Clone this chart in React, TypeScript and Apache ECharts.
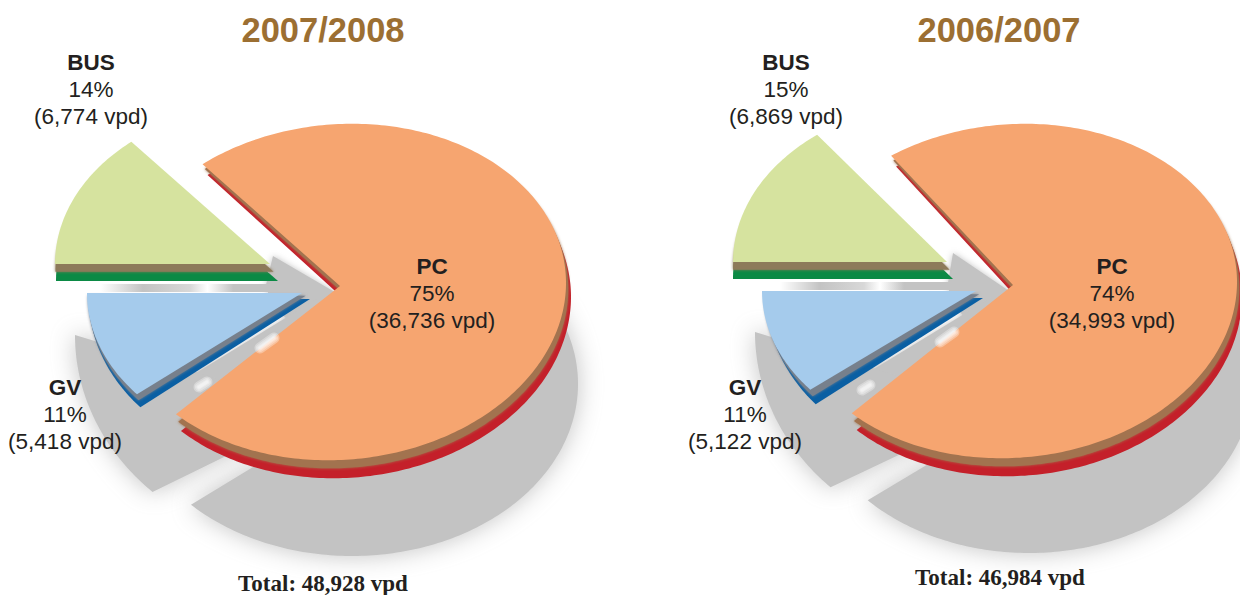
import React, { useEffect, useRef } from "react";
import * as echarts from "echarts";

const segments = ["PC", "BUS", "GV"];
const vpd0708 = [36736, 6774, 5418];
const pct0708 = [75, 14, 11];
const total0708 = 48928;
const vpd0607 = [34993, 6869, 5122];
const pct0607 = [74, 15, 11];
const total0607 = 46984;

type Wedge = {
  apex: number[]; c: number[]; rx: number; ry: number; ext: number[]; grow: number[];
  skew: number; trim: number[];
  shadow?: { apex: number[]; c: number[]; rx: number; ry: number; trim: number[]; from?: number };
};
const FONT = "'Liberation Sans', Arial, sans-serif";
const GREY = "#c3c3c3";
const COLORS = [
  { face: "#f6a570", mid: "#a2734f", dark: "#c4202a" },
  { face: "#d6e39f", mid: "#8d7a5a", dark: "#0b8a45" },
  { face: "#a5cbec", mid: "#77808c", dark: "#0a5fa3" },
];

const charts = [
  {
    title: "2007/2008", vpd: vpd0708, pct: pct0708, total: total0708,
    titleX: 323, titleY: 30, totalX: 323, totalY: 583,
    labels: [[432, 266], [91, 62], [65, 387]],
    notch: [[273, 256], [345, 298], [298, 332], [270, 300], [266, 285]],
    gap: [[318, 298], [338, 298], [182, 418], [155, 425], [139, 408]],
    glints: [[260, 348, 274, 338], [199, 387, 207, 382]],
    band: [100, 284, 215, 8],
    wedges: [
      { apex: [340, 286], c: [340, 292], rx: 226, ry: 168, ext: [5, 14], grow: [0, 4], skew: 0.04, trim: [3.6, -2.7],
        shadow: { apex: [350, 408], c: [352, 384], rx: 226, ry: 172, trim: [4.7, 0], from: 40 } },
      { apex: [270, 264], c: [270, 264], rx: 215, ry: 160, ext: [8, 17], grow: [7, 4], skew: 0, trim: [0, 0] },
      { apex: [302, 293], c: [302, 293], rx: 215, ry: 158, ext: [8, 6], grow: [6, 11], skew: 0, trim: [0, 0],
        shadow: { apex: [320, 410], c: [320, 335], rx: 245, ry: 215, trim: [0, 7] } },
    ] as Wedge[],
  },
  {
    title: "2006/2007", vpd: vpd0607, pct: pct0607, total: total0607,
    titleX: 999, titleY: 30, totalX: 1000, totalY: 577,
    labels: [[1112, 266], [786, 62], [745, 387]],
    notch: [[953, 253], [1018, 297], [975, 332], [950, 298], [948, 283]],
    gap: [[992, 297], [1012, 297], [860, 418], [832, 422], [815, 405]],
    glints: [[940, 342, 954, 332], [862, 390, 870, 385]],
    band: [780, 282, 200, 8],
    wedges: [
      { apex: [1013, 285], c: [1013, 291], rx: 224, ry: 167, ext: [5, 14], grow: [0, 4], skew: 0.04, trim: [4.7, -4.4],
        shadow: { apex: [1027, 405], c: [1029, 381], rx: 224, ry: 172, trim: [4.7, 0], from: 40 } },
      { apex: [947, 262], c: [947, 262], rx: 214, ry: 160, ext: [6, 17], grow: [6, 4], skew: 0, trim: [0, 0] },
      { apex: [976, 291], c: [976, 291], rx: 214, ry: 156, ext: [7, 7], grow: [2, 12], skew: 0, trim: [0, 0],
        shadow: { apex: [1000, 407], c: [1000, 332], rx: 245, ry: 215, trim: [0, 7] } },
    ] as Wedge[],
  },
];

// Angles (degrees, counter-clockwise from east) of each segment, from its share of the total.
function angleRanges(values: number[]) {
  const sum = values.reduce((a, b) => a + b, 0);
  const deg = values.map((v) => (v / sum) * 360);
  const busStart = 180 - deg[1];
  return [
    [busStart - deg[0], busStart], // PC
    [busStart, 180], // BUS
    [180, 180 + deg[2]], // GV
  ];
}

function wedgePoints(apex: number[], c: number[], rx: number, ry: number, a0: number, a1: number, skew = 0) {
  const pts: number[][] = [apex];
  const steps = Math.ceil(Math.abs(a1 - a0));
  for (let i = 0; i <= steps; i++) {
    const a = ((a0 + ((a1 - a0) * i) / steps) * Math.PI) / 180;
    const dx = rx * Math.cos(a);
    pts.push([c[0] + dx, c[1] - ry * Math.sin(a) - skew * dx]);
  }
  return pts;
}

function buildOption() {
  const series: any[] = [];
  const graphic: any[] = [];
  charts.forEach((chart) => {
    const ranges = angleRanges(chart.vpd);
    const layer = (name: string, draw: (i: number, w: Wedge, r: number[]) => any) => {
      series.push({
        type: "custom",
        name: chart.title + " " + name,
        coordinateSystem: "none",
        silent: true,
        data: chart.vpd.map((v, i) => ({ name: segments[i], value: [i, v] })),
        renderItem: (params: any) => {
          const i = params.dataIndex;
          return draw(i, chart.wedges[i], ranges[i]);
        },
      });
    };
    layer("shadow", (i, w, r) => {
      const s = w.shadow;
      if (!s) return null;
      const a0 = r[0] + s.trim[0];
      const a1 = s.from !== undefined ? s.from : r[1] + s.trim[1];
      return {
        type: "polygon",
        shape: { points: wedgePoints(s.apex, s.c, s.rx, s.ry, a0, a1) },
        style: { fill: GREY, shadowBlur: 24, shadowColor: GREY },
      };
    });
    const bandLayer = (name: string, f: number, colour: "dark" | "mid") =>
      layer(name, (i, w, r) => ({
        type: "polygon",
        shape: {
          points: wedgePoints(
            [w.apex[0] + w.ext[0] * f, w.apex[1] + w.ext[1] * f],
            [w.c[0] + w.ext[0] * f, w.c[1] + w.ext[1] * f],
            w.rx + w.grow[0] * f, w.ry + w.grow[1] * f,
            r[0] + w.trim[0], r[1] + w.trim[1], w.skew
          ),
        },
        style: colour === "mid"
          ? { fill: COLORS[i].mid, shadowBlur: 3, shadowColor: COLORS[i].mid }
          : { fill: COLORS[i].dark },
      }));
    bandLayer("dark", 1, "dark");
    bandLayer("mid", 0.45, "mid");
    layer("face", (i, w, r) => ({
      type: "polygon",
      shape: { points: wedgePoints(w.apex, w.c, w.rx, w.ry, r[0] + w.trim[0], r[1] + w.trim[1], w.skew) },
      style: { fill: COLORS[i].face },
    }));

    // soft contact shadows in the notch between the wedges
    [chart.notch, chart.gap].forEach((points) =>
      graphic.push({
        type: "polygon", z: 0, silent: true,
        shape: { points },
        style: { fill: GREY, shadowBlur: 6, shadowColor: GREY },
      })
    );
    chart.glints.forEach(([x1, y1, x2, y2]) =>
      [11, 8, 5, 3].forEach((lineWidth) =>
        graphic.push({
          type: "line", z: 3, silent: true,
          shape: { x1, y1, x2, y2 },
          style: { stroke: "rgba(255,255,255,0.32)", lineWidth, lineCap: "round" },
        })
      )
    );
    graphic.push({
      type: "rect", z: 0, silent: true,
      shape: { x: chart.band[0], y: chart.band[1], width: chart.band[2], height: chart.band[3] },
      style: {
        fill: {
          type: "linear", x: 0, y: 0, x2: 1, y2: 0,
          colorStops: [
            { offset: 0, color: "#ffffff" },
            { offset: 0.2, color: GREY },
            { offset: 0.42, color: "#d8d8d8" },
            { offset: 0.5, color: "#ffffff" },
            { offset: 0.62, color: GREY },
            { offset: 1, color: GREY },
          ],
        },
      },
    });

    graphic.push({
      type: "text", z: 10, silent: true, x: chart.titleX, y: chart.titleY,
      style: { text: chart.title, fill: "#9c6f32", font: `bold 34.5px ${FONT}`, textAlign: "center", textVerticalAlign: "middle" },
    });
    graphic.push({
      type: "text", z: 10, silent: true, x: chart.totalX, y: chart.totalY,
      style: {
        text: `Total: ${chart.total.toLocaleString("en-US")} vpd`, fill: "#231f20",
        font: "bold 23px 'Liberation Serif', serif", textAlign: "center", textVerticalAlign: "middle",
      },
    });
    segments.forEach((s, i) => {
      const [x, y] = chart.labels[i];
      const lines = [
        { t: s, f: `bold 22.5px ${FONT}`, dy: 0 },
        { t: `${chart.pct[i]}%`, f: `22.5px ${FONT}`, dy: 27 },
        { t: `(${chart.vpd[i].toLocaleString("en-US")} vpd)`, f: `22.5px ${FONT}`, dy: 54 },
      ];
      lines.forEach((l) =>
        graphic.push({
          type: "text", z: 10, silent: true, x, y: y + l.dy,
          style: { text: l.t, fill: "#231f20", font: l.f, textAlign: "center", textVerticalAlign: "middle" },
        })
      );
    });
  });
  return { animation: false, backgroundColor: "#ffffff", series, graphic };
}

export default function App() {
  const ref = useRef<HTMLDivElement>(null);
  useEffect(() => {
    const chart = echarts.init(ref.current!, undefined, { renderer: "svg" });
    chart.setOption(buildOption() as any);
    return () => chart.dispose();
  }, []);
  return <div ref={ref} style={{ position: "absolute", left: 0, top: 0, width: 1240, height: 595 }} />;
}
